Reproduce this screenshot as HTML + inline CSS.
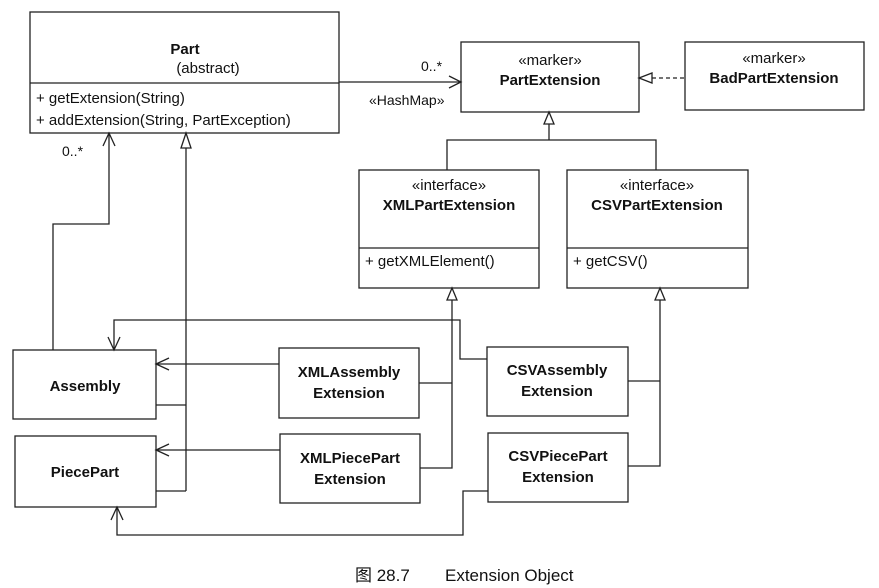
<!DOCTYPE html>
<html><head><meta charset="utf-8"><style>
html,body{margin:0;padding:0;background:#fff;}
svg{display:block;}
text{font-family:"Liberation Sans","Noto Sans CJK SC",sans-serif;fill:#111;}
.b{font-weight:bold;}
</style></head><body>
<svg width="879" height="588" viewBox="0 0 879 588" xmlns="http://www.w3.org/2000/svg">
<g fill="none" stroke="#222" stroke-width="1.3">
<!-- boxes -->
<rect x="30" y="12" width="309" height="121"/><line x1="30" y1="83" x2="339" y2="83"/>
<rect x="461" y="42" width="178" height="70"/>
<rect x="685" y="42" width="179" height="68"/>
<rect x="359" y="170" width="180" height="118"/><line x1="359" y1="248" x2="539" y2="248"/>
<rect x="567" y="170" width="181" height="118"/><line x1="567" y1="248" x2="748" y2="248"/>
<rect x="13" y="350" width="143" height="69"/>
<rect x="15" y="436" width="141" height="71"/>
<rect x="279" y="348" width="140" height="70"/>
<rect x="280" y="434" width="140" height="69"/>
<rect x="487" y="347" width="141" height="69"/>
<rect x="488" y="433" width="140" height="69"/>
<!-- Part -> PartExtension -->
<line x1="339" y1="82" x2="461" y2="82"/>
<polyline points="449,76 461,82 449,88"/>
<!-- BadPartExtension dashed realization -->
<line x1="652" y1="78" x2="685" y2="78" stroke-dasharray="4,3"/>
<polygon points="639,78 652,73 652,83"/>
<!-- XML/CSV interface -> PartExtension -->
<polyline points="447,170 447,140 656,140 656,170"/>
<line x1="549" y1="140" x2="549" y2="124"/>
<polygon points="549,112 544,124 554,124"/>
<!-- Assembly -> Part aggregation -->
<polyline points="53,350 53,224 109,224 109,133"/>
<polyline points="103,146 109,133 115,146"/>
<!-- generalization to Part -->
<line x1="186" y1="148" x2="186" y2="491"/>
<polygon points="186,133 181,148 191,148"/>
<line x1="156" y1="405" x2="186" y2="405"/>
<line x1="156" y1="491" x2="186" y2="491"/>
<!-- XML extensions -> Assembly/PiecePart -->
<line x1="156" y1="364" x2="279" y2="364"/>
<polyline points="169,358 156,364 169,370"/>
<line x1="156" y1="450" x2="280" y2="450"/>
<polyline points="169,444 156,450 169,456"/>
<!-- CSVAssembly -> Assembly -->
<polyline points="487,359 460,359 460,320 114,320 114,350"/>
<polyline points="108,337 114,350 120,337"/>
<!-- CSVPiecePart -> PiecePart -->
<polyline points="488,491 463,491 463,535 117,535 117,507"/>
<polyline points="111,520 117,507 123,520"/>
<!-- XML impl -->
<polyline points="419,383 452,383"/>
<polyline points="420,468 452,468 452,300"/>
<polygon points="452,288 447,300 457,300"/>
<!-- CSV impl -->
<polyline points="628,381 660,381"/>
<polyline points="628,466 660,466 660,300"/>
<polygon points="660,288 655,300 665,300"/>
</g>
<!-- texts -->
<text x="185" y="54" font-size="15" text-anchor="middle" class="b">Part</text>
<text x="208" y="73" font-size="15" text-anchor="middle">(abstract)</text>
<text x="36" y="103" font-size="15">+ getExtension(String)</text>
<text x="36" y="125" font-size="15">+ addExtension(String, PartException)</text>
<text x="62" y="156" font-size="14">0..*</text>
<text x="421" y="71" font-size="14">0..*</text>
<text x="369" y="105" font-size="14">«HashMap»</text>
<text x="550" y="65" font-size="15" text-anchor="middle">«marker»</text>
<text x="550" y="85" font-size="15" text-anchor="middle" class="b">PartExtension</text>
<text x="774" y="63" font-size="15" text-anchor="middle">«marker»</text>
<text x="774" y="83" font-size="15" text-anchor="middle" class="b">BadPartExtension</text>
<text x="449" y="190" font-size="15" text-anchor="middle">«interface»</text>
<text x="449" y="210" font-size="15" text-anchor="middle" class="b">XMLPartExtension</text>
<text x="365" y="266" font-size="15">+ getXMLElement()</text>
<text x="657" y="190" font-size="15" text-anchor="middle">«interface»</text>
<text x="657" y="210" font-size="15" text-anchor="middle" class="b">CSVPartExtension</text>
<text x="573" y="266" font-size="15">+ getCSV()</text>
<text x="85" y="391" font-size="15" text-anchor="middle" class="b">Assembly</text>
<text x="85" y="477" font-size="15" text-anchor="middle" class="b">PiecePart</text>
<text x="349" y="377" font-size="15" text-anchor="middle" class="b">XMLAssembly</text>
<text x="349" y="398" font-size="15" text-anchor="middle" class="b">Extension</text>
<text x="350" y="463" font-size="15" text-anchor="middle" class="b">XMLPiecePart</text>
<text x="350" y="484" font-size="15" text-anchor="middle" class="b">Extension</text>
<text x="557" y="375" font-size="15" text-anchor="middle" class="b">CSVAssembly</text>
<text x="557" y="396" font-size="15" text-anchor="middle" class="b">Extension</text>
<text x="558" y="461" font-size="15" text-anchor="middle" class="b">CSVPiecePart</text>
<text x="558" y="482" font-size="15" text-anchor="middle" class="b">Extension</text>
<text x="355" y="581" font-size="17">图 28.7</text>
<text x="445" y="581" font-size="17">Extension Object</text>
</svg>
</body></html>
